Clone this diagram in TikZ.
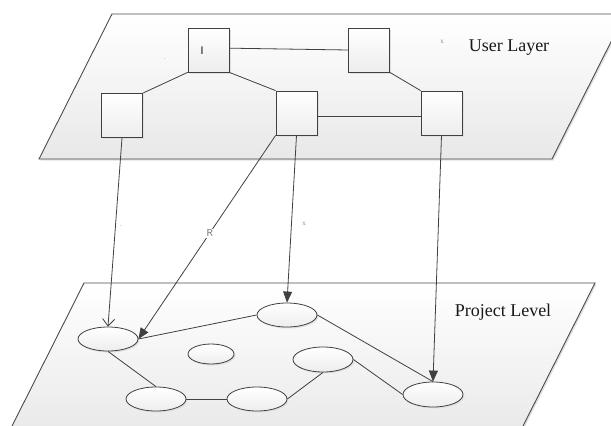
\documentclass[tikz,border=0pt]{standalone}
\usepackage{fontspec}
\setmainfont{Liberation Serif}
\usetikzlibrary{shapes.geometric,shadows,arrows.meta}

\begin{document}
\begin{tikzpicture}[x=1pt,y=-1pt]
	\tikzset{softshadow/.style={drop shadow={shadow xshift=1.5pt,shadow yshift=-1.5pt,fill=black!12,opacity=1}}}
	\tikzset{plane/.style={draw=black!70,line width=0.9pt,top color=white,bottom color=black!9,softshadow}}
	\tikzset{userbox/.style={rectangle,draw=black!75,line width=0.8pt,top color=white,bottom color=black!7,minimum width=41pt,minimum height=44pt,inner sep=0pt,softshadow}}
	\tikzset{projnode/.style={ellipse,draw=black!75,line width=0.8pt,top color=white,bottom color=black!7,minimum width=60pt,minimum height=24pt,inner sep=0pt,softshadow}}
	\tikzset{link/.style={draw=black!75,line width=0.8pt}}
	\tikzset{maps/.style={link,-{Triangle[length=11pt,width=9pt]}}}
	\tikzset{faint/.style={text=black!45,font=\fontsize{7}{8}\selectfont,inner sep=1pt}}
	\tikzset{layername/.style={font=\fontsize{18}{20}\selectfont,text=black!90}}

	\useasboundingbox (0,0) rectangle (611,426);
	\clip (0,0) rectangle (611,426);

	% the two layers
	\path[plane] (112,14) -- (625,14) -- (552,159) -- (39,159) -- cycle;
	\path[plane] (84,283) -- (595,283) -- (516,440) -- (5,440) -- cycle;
	\node[layername] (userlayer) at (509,48) {User Layer};
	\node[layername] (projlevel) at (503,312) {Project Level};

	% users
	\node[userbox] (A) at (208.5,50) {};
	\node[userbox] (B) at (369,50) {};
	\node[userbox] (C) at (122,115.5) {};
	\node[userbox] (D) at (296.5,113) {};
	\node[userbox] (E) at (441.5,113) {};
	\node[font=\fontsize{11}{11}\selectfont\sffamily,inner sep=0pt] (atag) at (202,51) {I};
	\node[faint] (ua) at (165,59) {.};
	\node[faint] (ub) at (442,42) {x};

	\draw[link] (A.5) -- (B.west);
	\draw[link] (C.north east) -- (A.south west);
	\draw[link] (A.south east) -- (D.north west);
	\draw[link] (B.south east) -- (E.north west);
	\draw[link] (D.-8) -- (E.188);

	% projects
	\node[projnode] (L) at (108,339) {};
	\node[projnode] (T) at (287,315) {};
	\node[projnode,minimum width=46pt,minimum height=20pt] (S) at (211,354) {};
	\node[projnode,minimum height=25pt] (M) at (323,359.5) {};
	\node[projnode] (BL) at (156,399) {};
	\node[projnode] (BM) at (257,399) {};
	\node[projnode,minimum height=25pt] (R) at (433,394.5) {};

	\draw[link] (L.east) -- (T.west);
	\draw[link] (L.south) -- (BL.north);
	\draw[link] (BL.east) -- (BM.west);
	\draw[link] (BM.east) -- (M.south);
	\draw[link] (T.east) -- (R.north);
	\draw[link] (M.east) -- (R.west);

	% mapping between layers
	\draw[link,-{Straight Barb[length=7pt,width=12pt]}] (C.south) -- (L.north);
	\draw[maps] (D.south west) -- node[pos=0.48,fill=white,text=black!60,font=\fontsize{10}{10}\selectfont\sffamily,inner sep=1pt] {R} (L.east);
	\draw[maps] (D.south) -- (T.north);
	\draw[maps] (E.south) -- (R.north);
	\node[faint] (ma) at (121,226) {.};
	\node[faint] (mb) at (304,224) {x};
\end{tikzpicture}
\end{document}
